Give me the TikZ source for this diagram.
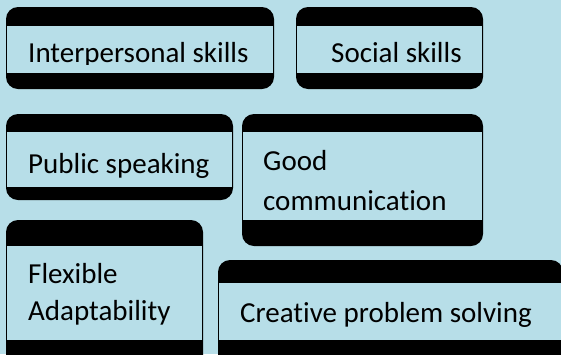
\documentclass[tikz,border=0pt]{standalone}
\usepackage{fontspec}
\setmainfont{Carlito}[Ligatures=CommonOff]
\usepackage{tikz}
\usepackage{xcolor}
\usetikzlibrary{positioning}

\definecolor{skyback}{HTML}{B7DEE8}

\tikzset{
  cardfill/.style={fill=black, rounded corners=12pt},
  bandfill/.style={fill=skyback},
  skilltext/.style={anchor=base west, inner sep=0pt, align=left,
    font=\fontsize{29}{38}\selectfont}
}

% card: x1, y1, x2, y2, band top, band bottom
\newcommand{\skillcard}[6]{%
  \fill[cardfill] (#1, #2) rectangle (#3, #4);
  \fill[bandfill] (#1+1.4, #5) rectangle (#3-1.4, #6);
}

\begin{document}
\begin{tikzpicture}[x=1pt, y=-1pt]

  \useasboundingbox (0, 0) rectangle (561, 354);
  \fill[skyback] (0, 0) rectangle (561, 354);
  \clip (0, 0) rectangle (561, 354);

%%%%%%%%%%%% cards
  \skillcard{6}{7}{274}{89}{26}{73}
  \skillcard{296}{7}{483}{89}{26}{73}
  \skillcard{6}{114}{233}{200}{132}{187}
  \skillcard{242}{114}{483}{246}{132}{220}
  \skillcard{6}{220}{203}{372}{246}{340}
  \skillcard{218}{260}{563}{372}{283}{340}

%%%%%%%%%%%% labels (base = last line)
  \begin{scope}
    \clip (0, 0) rectangle (561, 64);
    \node[skilltext] (inter) at (28, 62) {Interpersonal skills};
  \end{scope}
  \node[skilltext] (social) at (331, 62) {Social skills};
  \node[skilltext] (public) at (28, 173) {Public speaking};
  \node[skilltext] (comm) at (263, 210) {Good\\[2pt]communication};
  \node[skilltext] (flex) at (28, 320) {Flexible\\[-1pt]Adaptability};
  \node[skilltext] (creative) at (240, 322) {Creative problem solving};
\end{tikzpicture}
\end{document}
